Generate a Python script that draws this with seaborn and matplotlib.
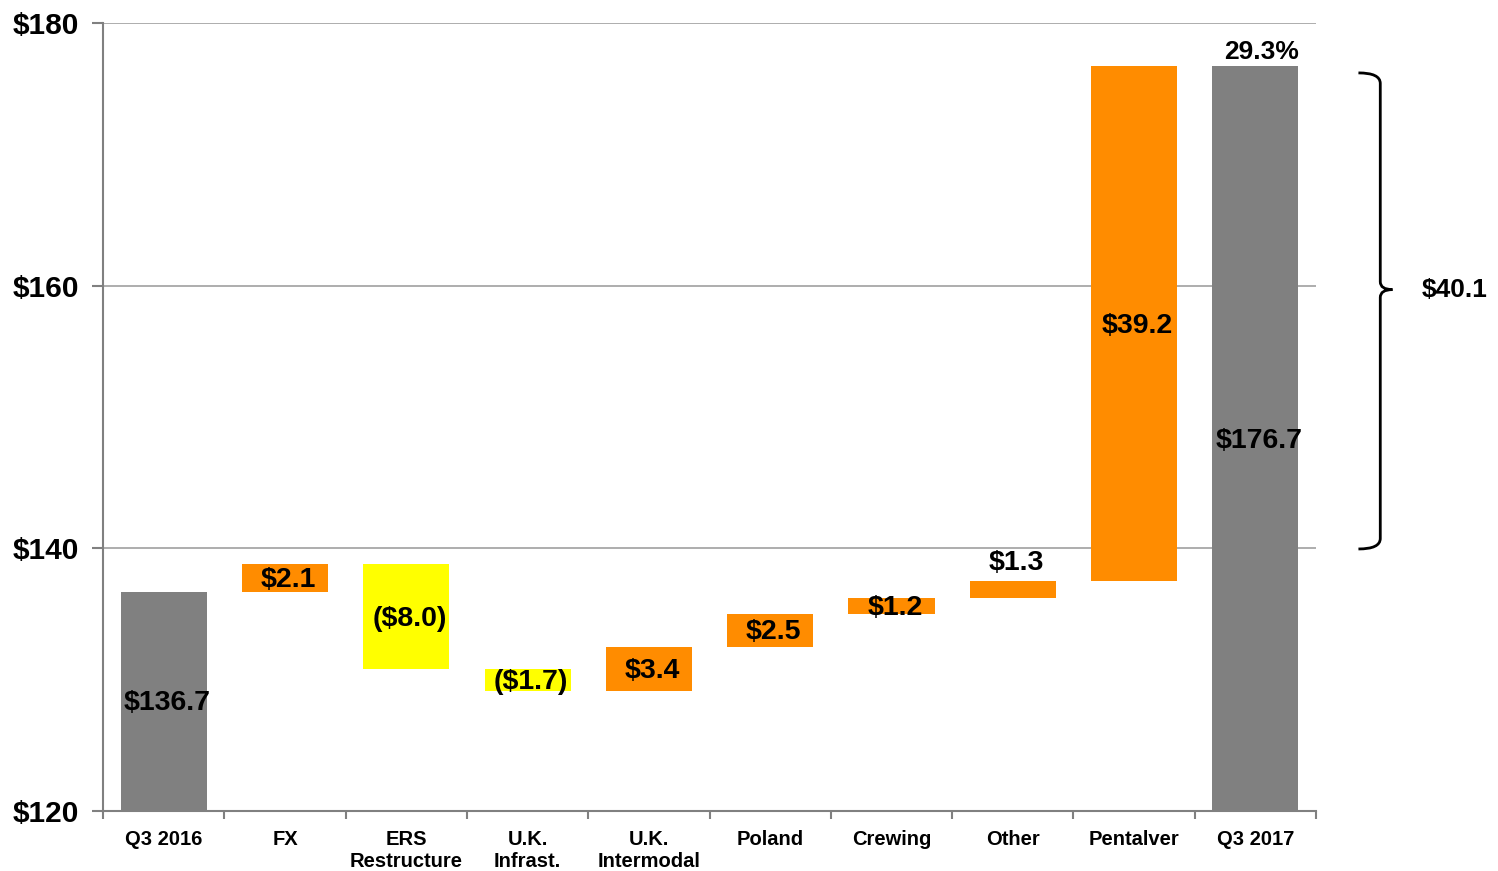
import pandas as pd
import seaborn as sns
import numpy as np
import matplotlib.pyplot as plt
from matplotlib.path import Path
from matplotlib.patches import PathPatch
import matplotlib.transforms as mtransforms

# data
steps = ['Q3 2016', 'FX', 'ERS\nRestructure', 'U.K.\nInfrast.', 'U.K.\nIntermodal',
         'Poland', 'Crewing', 'Other', 'Pentalver', 'Q3 2017']
start_value = 136.7
changes = [2.1, -8.0, -1.7, 3.4, 2.5, 1.2, 1.3, 39.2]
end_value = 176.7
bar_labels = ['$136.7', '$2.1', '($8.0)', '($1.7)', '$3.4', '$2.5', '$1.2', '$1.3', '$39.2', '$176.7']
margin_label = '29.3%'
total_change_label = '$40.1'
y_ticks = [120, 140, 160, 180]

GRAY = '#808080'
ORANGE = '#FF8C00'
YELLOW = '#FFFF00'

# build waterfall bottoms / heights
bottoms = [120.0]
heights = [start_value - 120.0]
colors = [GRAY]
level = start_value
for c in changes:
    bottoms.append(min(level, level + c))
    heights.append(abs(c))
    colors.append(ORANGE if c >= 0 else YELLOW)
    level += c
bottoms.append(120.0)
heights.append(end_value - 120.0)
colors.append(GRAY)

df = pd.DataFrame({'step': steps, 'height': heights, 'bottom': bottoms})

sns.set_style('white')
plt.rcParams['font.family'] = ['Liberation Sans', 'DejaVu Sans']
plt.rcParams['font.weight'] = 'bold'
plt.rcParams['text.color'] = 'black'
plt.rcParams['xtick.color'] = GRAY
plt.rcParams['ytick.color'] = GRAY
plt.rcParams['xtick.labelcolor'] = 'black'
plt.rcParams['ytick.labelcolor'] = 'black'

fig = plt.figure(figsize=(14.98, 8.71), dpi=100)
ax = fig.add_axes([0.0688, 0.0689, 0.8097, 0.9047])

sns.barplot(data=df, x='step', y='height', bottom=df['bottom'].values,
            color=GRAY, width=0.71, saturation=1, ax=ax, zorder=2)
for p, col in zip(ax.patches, colors):
    p.set_facecolor(col)
    p.set_edgecolor('none')

ax.set_ylim(120, 180)
ax.set_xlim(-0.5, len(steps) - 0.5)
ax.set_yticks(y_ticks)
ax.set_yticklabels(['$%d' % t for t in y_ticks], fontsize=21.5, fontweight='bold')
ax.set_xticks(range(len(steps)))
ax.set_xticklabels(steps, fontsize=14.5, fontweight='bold', linespacing=1.2)
ax.set_xticks(np.arange(-0.5, len(steps)), minor=True)
ax.tick_params(axis='x', which='major', length=0, pad=14, bottom=True)
ax.tick_params(axis='x', which='minor', length=6, width=1.5, direction='out', bottom=True)
ax.tick_params(axis='y', length=8, width=1.5, direction='out', pad=9, left=True)
ax.set_xlabel('')
ax.set_ylabel('')

for y in y_ticks[1:]:
    ax.axhline(y, color='#A0A0A0', lw=1.2, zorder=1)
for s in ['top', 'right']:
    ax.spines[s].set_visible(False)
for s in ['left', 'bottom']:
    ax.spines[s].set_color(GRAY)
    ax.spines[s].set_linewidth(1.5)

# value labels
for i, (b, h, lab) in enumerate(zip(bottoms, heights, bar_labels)):
    if lab == '$1.3':
        ax.text(i + 0.03, b + h + 1.4, lab, ha='center', va='center', fontsize=20.5, fontweight='bold', zorder=3)
    else:
        ax.text(i + 0.03, b + h / 2 - 0.15, lab, ha='center', va='center', fontsize=20.5, fontweight='bold', zorder=3)
ax.text(len(steps) - 1 + 0.05, end_value + 1.1, margin_label, ha='center', va='center',
        fontsize=19, fontweight='bold')

# brace showing the total change
trans = mtransforms.blended_transform_factory(ax.transAxes, ax.transData)
x0, x1, xt = 1.035, 1.053, 1.063
ytop, ybot, ytip = 176.2, 139.95, 159.7
verts = [(x0, ytop), (x1, ytop), (x1, ytop - 0.8),
         (x1, ytip + 0.6),
         (x1, ytip), (xt, ytip),
         (x1, ytip), (x1, ytip - 0.6),
         (x1, ybot + 0.8),
         (x1, ybot), (x0, ybot)]
codes = [Path.MOVETO, Path.CURVE3, Path.CURVE3,
         Path.LINETO,
         Path.CURVE3, Path.CURVE3,
         Path.CURVE3, Path.CURVE3,
         Path.LINETO,
         Path.CURVE3, Path.CURVE3]
brace = PathPatch(Path(verts, codes), transform=trans, fill=False, lw=2, color='black', clip_on=False)
ax.add_patch(brace)
ax.text(1.087, ytip, total_change_label, transform=trans, ha='left', va='center',
        fontsize=19, fontweight='bold', clip_on=False)

fig.savefig('out.png', dpi=100)
